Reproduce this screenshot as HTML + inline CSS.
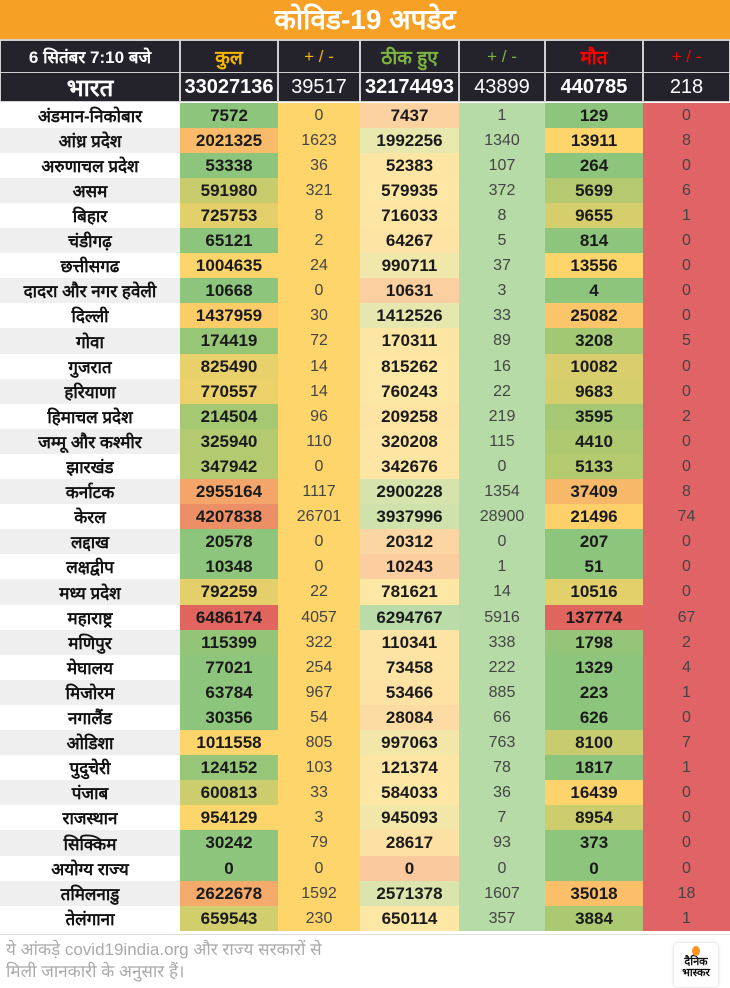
<!DOCTYPE html>
<html><head><meta charset="utf-8"><style>
*{margin:0;padding:0;box-sizing:border-box}
body{width:730px;height:988px;background:#fff;font-family:"Liberation Sans","Noto Sans CJK SC",sans-serif;overflow:hidden;position:relative}
.title{position:absolute;left:0;top:0;width:730px;height:39px;background:#f7a026;color:#fff;font-weight:bold;font-size:28px;text-align:center;line-height:40px}
.row{position:absolute;left:0;width:730px;display:flex}
.row div{display:flex;align-items:center;justify-content:center;height:100%}
.c0{width:180px}.c1{width:98px}.c2{width:82px}.c3{width:99px}.c4{width:86px}.c5{width:98px}.c6{width:87px}
.hd{background:#cfcfcf;gap:0}
.hd div{background:#24222b;font-weight:bold;font-size:17px;border:1px solid #cfcfcf;border-top-width:2px;border-bottom-width:1px}
.in div{background:#24222b;color:#fff;font-size:20px;border:1px solid #cfcfcf;border-top:0}
.d div{font-size:17px;font-weight:bold;color:#1a1a1a}
.d .c0{font-size:17px;font-weight:bold;color:#111}
.d .c2,.d .c4,.d .c6{font-weight:normal;color:#444;font-size:16px}
.c2{background:#fdd56b}.c4{background:#b7dba6}.c6{background:#e06466}
.foot{position:absolute;left:0;top:934px;width:730px;height:54px;background:#fff;border-top:1px solid #ddd}
.ft{position:absolute;left:6px;top:4px;font-size:17px;color:#aaa;line-height:22px}
.logo{position:absolute;left:674px;top:8px;width:44px;height:44px;background:#fff;border-radius:4px;box-shadow:0 0 3px #ccc;text-align:center;font-size:11px;font-weight:bold;line-height:11px;color:#111;padding-top:14px}
.logo:before{content:"";position:absolute;left:18px;top:3px;width:8px;height:10px;border-radius:50%;background:#f7941d}
</style></head><body>
<div class="title">कोविड-19 अपडेट</div>
<div class="row hd" style="top:39px;height:34px">
<div class="c0" style="color:#fff">6 सितंबर 7:10 बजे</div><div class="c1" style="color:#f5b800;font-size:19px">कुल</div><div class="c2" style="color:#f5b800;font-weight:normal">+ / -</div><div class="c3" style="color:#7cb342;font-size:19px">ठीक हुए</div><div class="c4" style="color:#7cb342;font-weight:normal">+ / -</div><div class="c5" style="color:#f00;font-size:19px">मौत</div><div class="c6" style="color:#f00;font-weight:normal">+ / -</div>
</div>
<div class="row in" style="top:73px;height:29px">
<div class="c0" style="font-weight:bold;font-size:24px">भारत</div><div class="c1" style="font-weight:bold">33027136</div><div class="c2">39517</div><div class="c3" style="font-weight:bold">32174493</div><div class="c4">43899</div><div class="c5" style="font-weight:bold">440785</div><div class="c6">218</div>
</div>
<div id="rows"></div>
<div class="foot"><div class="ft">ये आंकड़े covid19india.org और राज्य सरकारों से<br>मिली जानकारी के अनुसार हैं।</div><div class="logo">दैनिक<br>भास्कर</div></div>
<script>
var G='#8dc57c';
var d=[
["अंडमान-निकोबार","7572","0","7437","1","129","0",G,'#fbd2a0',G],
["आंध्र प्रदेश","2021325","1623","1992256","1340","13911","8",'#f8bb6a','#e8e8ae','#fdd56a'],
["अरुणाचल प्रदेश","53338","36","52383","107","264","0",G,'#fde6a4',G],
["असम","591980","321","579935","372","5699","6",'#c9cc6d','#fde7a4','#b5ca70'],
["बिहार","725753","8","716033","8","9655","1",'#e4d06a','#fde6a4','#d6ce6d'],
["चंडीगढ़","65121","2","64267","5","814","0",G,'#fde4a4',G],
["छत्तीसगढ","1004635","24","990711","37","13556","0",'#fdd56a','#f0e7aa','#fdd56a'],
["दादरा और नगर हवेली","10668","0","10631","3","4","0",G,'#fbcf9f',G],
["दिल्ली","1437959","30","1412526","33","25082","0",'#fccc69','#e5e7ae','#fbc56a'],
["गोवा","174419","72","170311","89","3208","5",'#98c677','#fde6a4','#a2c874'],
["गुजरात","825490","14","815262","16","10082","0",'#e8d06b','#fde7a4','#d8ce6d'],
["हरियाणा","770557","14","760243","22","9683","0",'#ecd16b','#fde7a4','#d5ce6d'],
["हिमाचल प्रदेश","214504","96","209258","219","3595","2",'#a5c873','#fde4a4','#a4c873'],
["जम्मू और कश्मीर","325940","110","320208","115","4410","0",'#b3ca70','#fde6a4','#aec96f'],
["झारखंड","347942","0","342676","0","5133","0",'#b4ca70','#fde6a4','#b3ca6f'],
["कर्नाटक","2955164","1117","2900228","1354","37409","8",'#f4a66a','#d6e3ad','#f8b86a'],
["केरल","4207838","26701","3937996","28900","21496","74",'#ec8f66','#cfe2ac','#fdd06a'],
["लद्दाख","20578","0","20312","0","207","0",G,'#fbd6a2',G],
["लक्षद्वीप","10348","0","10243","1","51","0",G,'#fbcd9f',G],
["मध्य प्रदेश","792259","22","781621","14","10516","0",'#e4cf6b','#fde7a4','#e2d06b'],
["महाराष्ट्र","6486174","4057","6294767","5916","137774","67",'#e0655f','#b9dca8','#e0655f'],
["मणिपुर","115399","322","110341","338","1798","2",'#93c579','#fde4a4','#95c578'],
["मेघालय","77021","254","73458","222","1329","4",G,'#fde4a4',G],
["मिजोरम","63784","967","53466","885","223","1",G,'#fde2a4',G],
["नगालैंड","30356","54","28084","66","626","0",G,'#fcdca3',G],
["ओडिशा","1011558","805","997063","763","8100","7",'#fdd56a','#f2e7a8','#c8cc6e'],
["पुदुचेरी","124152","103","121374","78","1817","1",'#97c678','#fde5a4',G],
["पंजाब","600813","33","584033","36","16439","0",'#cccd6d','#fde7a4','#fed36b'],
["राजस्थान","954129","3","945093","7","8954","0",'#fcd66a','#f2e7a8','#ccce6d'],
["सिक्किम","30242","79","28617","93","373","0",G,'#fde0a3',G],
["अयोग्य राज्य","0","0","0","0","0","0",G,'#fac99e',G],
["तमिलनाडु","2622678","1592","2571378","1607","35018","18",'#f4aa6a','#dbe4ac','#fbbf6a'],
["तेलंगाना","659543","230","650114","357","3884","1",'#d0ce6d','#fde7a4','#aac970']];
var h='';
d.forEach(function(r,i){
var top=Math.round(102.5+i*25.1), nx=Math.round(102.5+(i+1)*25.1);
h+='<div class="row d" style="top:'+top+'px;height:'+(nx-top)+'px"><div class="c0" style="background:'+(i%2?'#efefef':'#fff')+'">'+r[0]+'</div><div class="c1" style="background:'+r[7]+'">'+r[1]+'</div><div class="c2">'+r[2]+'</div><div class="c3" style="background:'+r[8]+'">'+r[3]+'</div><div class="c4">'+r[4]+'</div><div class="c5" style="background:'+r[9]+'">'+r[5]+'</div><div class="c6">'+r[6]+'</div></div>';
});
document.getElementById('rows').innerHTML=h;
</script>
</body></html>
